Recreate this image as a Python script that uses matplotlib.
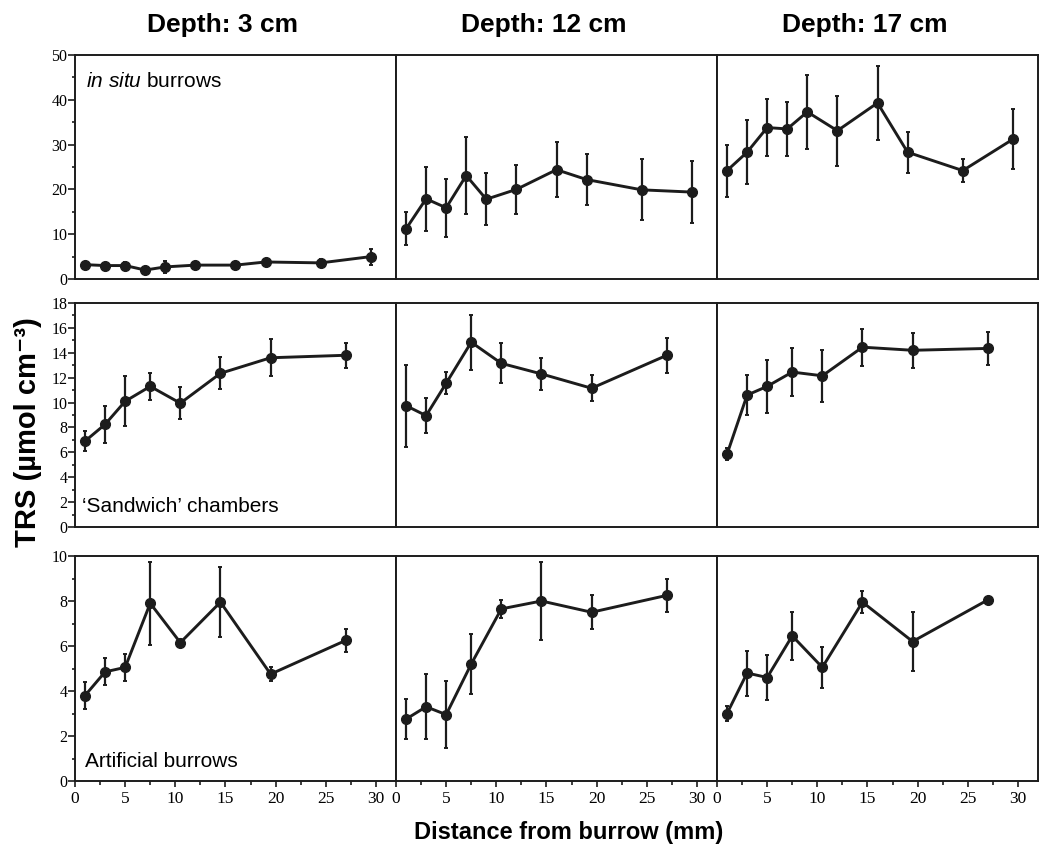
import matplotlib.pyplot as plt
from matplotlib.ticker import MultipleLocator, NullLocator

plt.rcParams["font.family"] = ["Liberation Sans", "DejaVu Sans"]
plt.rcParams["mathtext.fontset"] = "custom"
plt.rcParams["mathtext.rm"] = "Liberation Sans"
plt.rcParams["mathtext.it"] = "Liberation Sans:italic"
plt.rcParams["mathtext.bf"] = "Liberation Sans:bold"

# distance from burrow (mm)
x_insitu = [1, 3, 5, 7, 9, 12, 16, 19, 24.5, 29.5]
x_other = [1, 3, 5, 7.5, 10.5, 14.5, 19.5, 27]

depths = ["Depth: 3 cm", "Depth: 12 cm", "Depth: 17 cm"]

# in situ burrows
insitu_3 = [3.2, 3.0, 3.0, 2.0, 2.7, 3.1, 3.1, 3.8, 3.6, 5.0]
insitu_3_err = [0.5, 0.4, 0.7, 0.3, 1.3, 0.6, 0.5, 0.7, 0.8, 1.8]
insitu_12 = [11.2, 17.9, 15.9, 23.1, 17.8, 20.0, 24.4, 22.2, 19.9, 19.4]
insitu_12_err = [3.7, 7.1, 6.5, 8.6, 5.8, 5.4, 6.2, 5.6, 6.8, 7.0]
insitu_17 = [24.2, 28.3, 33.8, 33.5, 37.3, 33.1, 39.3, 28.3, 24.2, 31.2]
insitu_17_err = [5.8, 7.2, 6.4, 6.0, 8.2, 7.8, 8.3, 4.6, 2.5, 6.7]

# 'Sandwich' chambers
sandwich_3 = [6.9, 8.25, 10.1, 11.3, 9.95, 12.35, 13.6, 13.8]
sandwich_3_err = [0.8, 1.5, 2.0, 1.1, 1.3, 1.3, 1.5, 1.0]
sandwich_12 = [9.75, 8.95, 11.55, 14.85, 13.15, 12.3, 11.15, 13.8]
sandwich_12_err = [3.3, 1.4, 0.9, 2.2, 1.6, 1.3, 1.05, 1.4]
sandwich_17 = [5.85, 10.6, 11.3, 12.45, 12.15, 14.45, 14.2, 14.35]
sandwich_17_err = [0.5, 1.6, 2.1, 1.9, 2.1, 1.5, 1.4, 1.3]

# artificial burrows
artificial_3 = [3.8, 4.85, 5.05, 7.9, 6.15, 7.95, 4.75, 6.25]
artificial_3_err = [0.6, 0.6, 0.6, 1.85, 0.1, 1.55, 0.3, 0.5]
artificial_12 = [2.75, 3.3, 2.95, 5.2, 7.65, 8.0, 7.5, 8.25]
artificial_12_err = [0.9, 1.45, 1.5, 1.35, 0.4, 1.75, 0.75, 0.75]
artificial_17 = [3.0, 4.8, 4.6, 6.45, 5.05, 7.95, 6.2, 8.05]
artificial_17_err = [0.35, 1.0, 1.0, 1.05, 0.9, 0.5, 1.3, 0.1]

rows = [
    (x_insitu, [insitu_3, insitu_12, insitu_17],
     [insitu_3_err, insitu_12_err, insitu_17_err], 50, 10, 5),
    (x_other, [sandwich_3, sandwich_12, sandwich_17],
     [sandwich_3_err, sandwich_12_err, sandwich_17_err], 18, 2, 1),
    (x_other, [artificial_3, artificial_12, artificial_17],
     [artificial_3_err, artificial_12_err, artificial_17_err], 10, 2, 1),
]
row_labels = [r"$\mathit{in\ situ}$ burrows", "\u2018Sandwich\u2019 chambers", "Artificial burrows"]
label_pos = [(0.034, 0.857), (0.022, 0.067), (0.031, 0.062)]

W, H = 1046, 846
fig = plt.figure(figsize=(W / 100, H / 100), dpi=100)

col_left = [75, 396, 717]
col_w = 321
row_top = [55, 303, 556]
row_h = [224, 224, 225]

dark = "#1c1c1c"

for r, (xs, ys, errs, ymax, major, minor) in enumerate(rows):
    for c in range(3):
        ax = fig.add_axes([col_left[c] / W, 1 - (row_top[r] + row_h[r]) / H,
                           col_w / W, row_h[r] / H])
        ax.errorbar(xs, ys[c], yerr=errs[c], color=dark, lw=2.1, marker="o",
                    ms=7, elinewidth=1.6, capsize=1.6, capthick=1.4)
        ax.set_xlim(0, 32)
        ax.set_ylim(0, ymax)
        for sp in ax.spines.values():
            sp.set_linewidth(1.4)
            sp.set_color(dark)

        if c == 0:
            ax.yaxis.set_major_locator(MultipleLocator(major))
            ax.yaxis.set_minor_locator(MultipleLocator(minor))
            ax.tick_params(axis="y", which="major", direction="out", length=5,
                           width=1.2, pad=0.5, labelsize=11.5, color=dark)
            ax.tick_params(axis="y", which="minor", direction="out", length=2.5,
                           width=1.2, color=dark)
            for lab in ax.get_yticklabels():
                lab.set_fontfamily("Liberation Serif")
            ax.text(label_pos[r][0], label_pos[r][1], row_labels[r],
                    transform=ax.transAxes, fontsize=15, va="baseline")
        else:
            ax.yaxis.set_major_locator(NullLocator())
            ax.yaxis.set_minor_locator(NullLocator())

        if r == 2:
            ax.xaxis.set_major_locator(MultipleLocator(5))
            ax.xaxis.set_minor_locator(MultipleLocator(2.5))
            ax.xaxis.set_major_formatter(plt.FuncFormatter(lambda v, p: f"{v:.0f}" if v <= 30 else ""))
            ax.tick_params(axis="x", which="major", direction="out", length=4.5,
                           width=1.2, pad=3, labelsize=12.5, color=dark)
            ax.tick_params(axis="x", which="minor", direction="out", length=2.8,
                           width=1.2, color=dark)
            for lab in ax.get_xticklabels():
                lab.set_fontfamily("Liberation Serif")
        else:
            ax.xaxis.set_major_locator(NullLocator())
            ax.xaxis.set_minor_locator(NullLocator())

        if r == 0:
            fig.text((col_left[c] + col_w / 2 - 13) / W, 1 - 32 / H, depths[c],
                     fontsize=19, fontweight="bold", ha="center", va="baseline")

fig.text(569 / W, 1 - 839 / H, "Distance from burrow (mm)", fontsize=17,
         fontweight="bold", ha="center", va="baseline")
fig.text(28 / W, 1 - 432 / H, "TRS (µmol cm\u207b\u00b3)", fontsize=21,
         fontweight="bold", ha="center", va="center", rotation=90)

fig.savefig("out.png", dpi=100)
